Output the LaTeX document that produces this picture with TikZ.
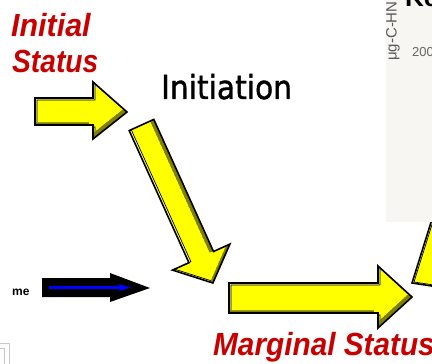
\documentclass[tikz,border=0pt]{standalone}
\usepackage{fontspec}
\setmainfont{Liberation Sans}
\newfontfamily\dejavu[FakeBold=1.2]{DejaVu Sans}
\usetikzlibrary{arrows.meta}
\definecolor{yel}{HTML}{FFFF00}
\definecolor{oliv}{HTML}{808000}
\definecolor{paley}{HTML}{FFFF99}
\definecolor{redt}{HTML}{C80000}
\definecolor{panelc}{HTML}{F8F6F2}
\definecolor{framec}{HTML}{C8C8C8}
% #1 polygon path, #2 shadow shift, #3 highlight shift relative to #2
\newcommand{\yarrow}[3]{%
 \begin{scope}
  \clip #1;
  \fill[oliv] #1;
  \begin{scope}[shift={(#2)}]
   \clip #1;
   \fill[paley] #1;
   \begin{scope}[shift={(#3)}]
     \fill[yel] #1;
     \draw[black,line width=0.7pt] #1;
   \end{scope}
  \end{scope}
 \end{scope}
 \draw[black,line width=1.6pt,line join=miter] #1;}
\tikzset{
  redlabel/.style={text=redt,font=\bfseries\itshape\fontsize{32}{32}\selectfont,inner sep=0pt,anchor=base west},
  blacklabel/.style={text=black,font=\dejavu\fontsize{33}{33}\selectfont,inner sep=0pt,anchor=base west},
  graylabel/.style={text=black!60,font=\fontsize{13}{13}\selectfont,inner sep=0pt}
}
\begin{document}
\begin{tikzpicture}[x=1pt,y=-1pt]
\useasboundingbox (0,0) rectangle (432,364);
\fill[white] (0,0) rectangle (432,364);
\clip (0,0) rectangle (432,364);

% partial arrow at right edge (behind panel)
\yarrow{(412,283) -- (438,200) -- (480,300) -- (445,288) -- cycle}{-4,1.5}{6,-2.5}

% chart panel top right
\fill[panelc] (386,-2) rectangle (434,222);
\node[text=black!65,inner sep=0pt,anchor=south west] (ylab) at (386,61) {\rotatebox{90}{\fontsize{15}{15}\selectfont μg-C-HN}};
\node[graylabel,anchor=west] (tick) at (412,52) {200};
\node[font=\bfseries\fontsize{26}{26}\selectfont,inner sep=0pt,anchor=base west] (ke) at (405,6) {Ke};

% texts
\node[redlabel] (initial) at (11,36) {\scalebox{0.95}[1]{Initial}};
\node[redlabel] (status) at (12,72) {\scalebox{0.88}[1]{Status}};
\node[blacklabel] (initiation) at (161,99) {\scalebox{0.9}[1]{Initiation}};
\node[redlabel] (marginal) at (213,355) {\scalebox{0.93}[1]{Marginal Status}};
\node[font=\bfseries\fontsize{12}{12}\selectfont,inner sep=0pt,anchor=base west] (me) at (12,295) {me};

% yellow arrows
\yarrow{(35,98) -- (93,98) -- (93,82) -- (127,112) -- (93,139) -- (93,125) -- (35,125) -- cycle}{-4,-3}{6,5}
\yarrow{(129.2,130.6) -- (188.9,262.7) -- (172.5,270.1) -- (212.9,283) -- (229.9,244.1) -- (213.5,251.5) -- (153.8,119.4) -- cycle}{-4,1.5}{6,-2.5}
\yarrow{(229,283) -- (378,283) -- (378,266) -- (412,297) -- (378,328) -- (378,313) -- (229,313) -- cycle}{-4,-3}{6,5}

% black arrow with blue line
\fill[black] (42,278) -- (110,278) -- (110,273) -- (150,288) -- (110,302) -- (110,297) -- (42,297) -- cycle;
\coordinate (bs) at (49,287.5);
\coordinate (be) at (131,287.5);
\draw[blue,line width=2.5pt,-{Stealth[length=13pt,width=7pt]}] (bs) -- (be);

% frame corner bottom left
\draw[framec,line width=0.8pt] (-1,343) -- (9,343) -- (9,366);
\draw[framec,line width=0.8pt] (-1,348) -- (4,348) -- (4,366);
\end{tikzpicture}
\end{document}
